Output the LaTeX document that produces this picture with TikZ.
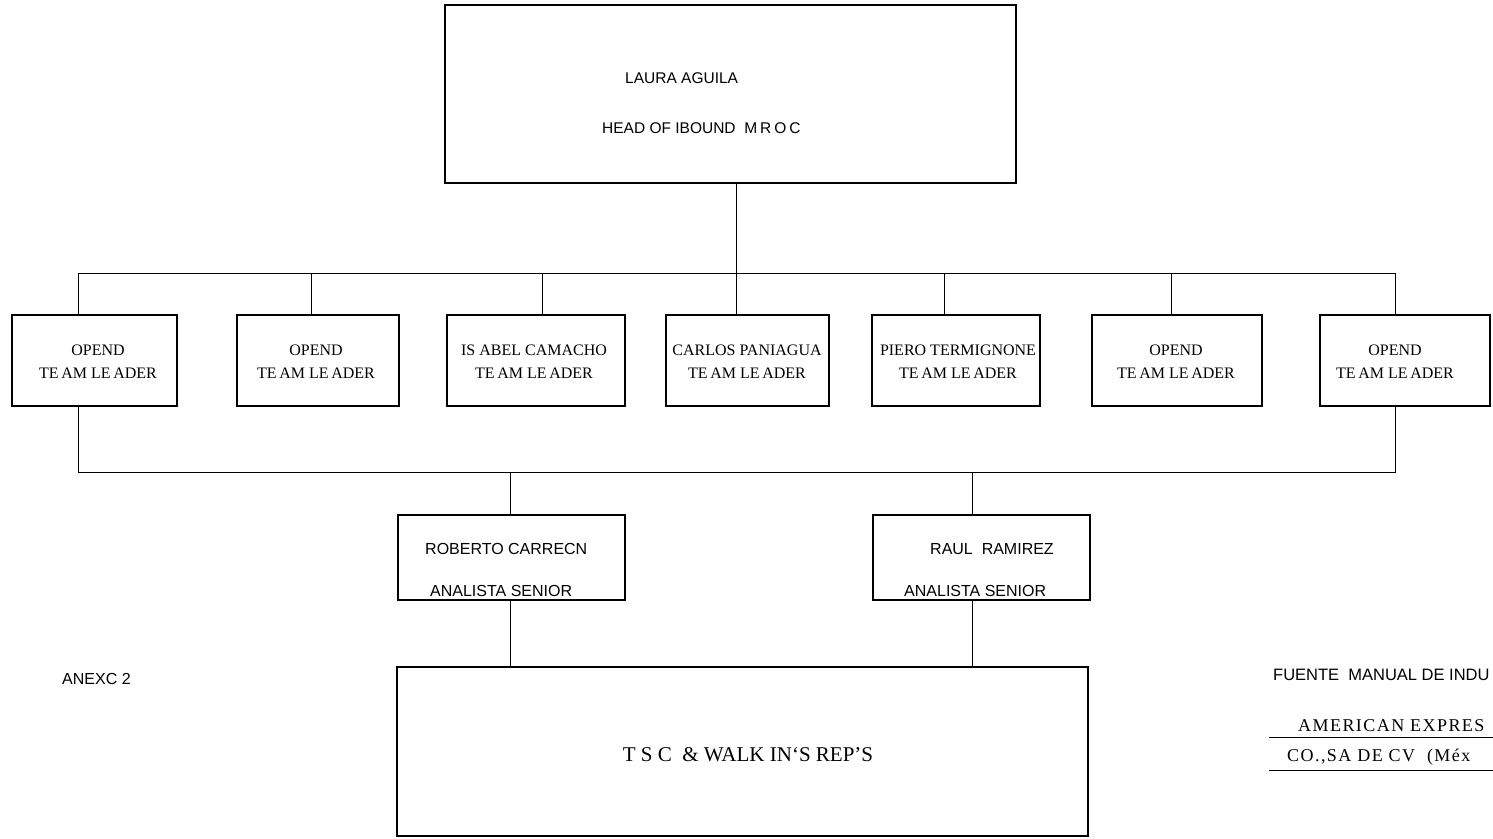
\documentclass[tikz,border=0pt]{standalone}
\usepackage{fontspec}
\setmainfont{Liberation Serif}
\newfontfamily\arialf{Liberation Sans}
\newfontfamily\widerm[LetterSpace=8]{Liberation Serif}
\begin{document}
\begin{tikzpicture}[x=1pt,y=-1pt,
  box/.style={draw=black,line width=1.3pt,rectangle,inner sep=0pt},
  conn/.style={draw=black,line width=1pt},
  sanslbl/.style={font=\arialf\fontsize{15.5}{17}\selectfont,inner sep=0pt,anchor=west},
  tllbl/.style={font=\fontsize{16}{18}\selectfont,inner sep=0pt,align=center},
  anlbl/.style={font=\arialf\fontsize{16}{18}\selectfont,inner sep=0pt,anchor=west},
  amexlbl/.style={font=\widerm\fontsize{18}{20}\selectfont,inner sep=0pt,anchor=west},
  hr/.style={draw=black,line width=1pt}]
\useasboundingbox (0,0) rectangle (1493,838);
\clip (0,0) rectangle (1493,838);
% head box
\node[box,minimum width=571pt,minimum height=178pt] (head) at (730.5,94) {};
\node[sanslbl] (hname) at (625,78) {LAURA AGUILA};
\node[sanslbl] (htitle) at (602,128) {HEAD OF IBOUND \ M\hspace{3pt}R\hspace{3pt}O\hspace{3pt}C};
% bus coordinates
\coordinate (b1) at (78,273);
\coordinate (b2) at (311,273);
\coordinate (b3) at (542,273);
\coordinate (b4) at (736,273);
\coordinate (b5) at (944,273);
\coordinate (b6) at (1171,273);
\coordinate (b7) at (1395,273);
% team leader boxes
\node[box,minimum width=165pt,minimum height=91pt] (t1) at (94.5,360.5) {};
\node[box,minimum width=162pt,minimum height=91pt] (t2) at (318,360.5) {};
\node[box,minimum width=178pt,minimum height=91pt] (t3) at (536,360.5) {};
\node[box,minimum width=163pt,minimum height=91pt] (t4) at (747.5,360.5) {};
\node[box,minimum width=168pt,minimum height=91pt] (t5) at (956,360.5) {};
\node[box,minimum width=170pt,minimum height=91pt] (t6) at (1177,360.5) {};
\node[box,minimum width=170pt,minimum height=91pt] (t7) at (1405,360.5) {};
\newcommand\tlead{TE\,AM LE\,ADER}
\node[tllbl] (t1a) at (98,350) {OPEND};
\node[tllbl] (t1b) at (98,373) {\tlead};
\node[tllbl] (t2a) at (316,350) {OPEND};
\node[tllbl] (t2b) at (316,373) {\tlead};
\node[tllbl] (t3a) at (534,350) {IS ABEL CAMACHO};
\node[tllbl] (t3b) at (534,373) {\tlead};
\node[tllbl] (t4a) at (747,350) {CARLOS PANIAGUA};
\node[tllbl] (t4b) at (747,373) {\tlead};
\node[tllbl] (t5a) at (958,350) {PIERO TERMIGNONE};
\node[tllbl] (t5b) at (958,373) {\tlead};
\node[tllbl] (t6a) at (1176,350) {OPEND};
\node[tllbl] (t6b) at (1176,373) {\tlead};
\node[tllbl] (t7a) at (1395,350) {OPEND};
\node[tllbl] (t7b) at (1395,373) {\tlead};
% upper bus
\draw[conn] (head.south -| b4) -- (b4);
\draw[conn] (b1) -- (b7);
\foreach \i in {1,...,7}{\draw[conn] (b\i) -- (b\i |- t\i.north);}
% lower bus
\coordinate (c1) at (78,472);
\coordinate (c7) at (1395,472);
\coordinate (ca) at (510,472);
\coordinate (cb) at (972,472);
\draw[conn] (t1.south -| c1) -- (c1) -- (c7) -- (t7.south -| c7);
% analyst boxes
\node[box,minimum width=227pt,minimum height=85pt] (ana) at (511.5,557.5) {};
\node[box,minimum width=217pt,minimum height=85pt] (anb) at (981.5,557.5) {};
\node[anlbl] (anaa) at (425,549) {ROBERTO CARRECN};
\node[anlbl] (anab) at (430,591) {ANALISTA SENIOR};
\node[anlbl] (anba) at (930,549) {RAUL \ RAMIREZ};
\node[anlbl] (anbb) at (904,591) {ANALISTA SENIOR};
\draw[conn] (ca) -- (ana.north -| ca);
\draw[conn] (cb) -- (anb.north -| cb);
% bottom box
\node[box,minimum width=691pt,minimum height=169pt] (tsc) at (742.5,751.5) {};
\node[font=\fontsize{21}{24}\selectfont,inner sep=0pt] (tsctxt) at (748,755) {T S C \ \& WALK IN`S REP'S};
\draw[conn] (ana.south -| ca) -- (tsc.north -| ca);
\draw[conn] (anb.south -| cb) -- (tsc.north -| cb);
% side texts
\node[sanslbl,font=\arialf\fontsize{16}{18}\selectfont] (anexo) at (62,679) {ANEXC 2};
\node[sanslbl,font=\arialf\fontsize{16.5}{18}\selectfont] (fuente) at (1273,675) {FUENTE \ MANUAL DE INDU};
\node[amexlbl] (amex1) at (1298,726) {AMERICAN EXPRES};
\node[amexlbl] (amex2) at (1287,757) {CO.,SA DE CV \ (Méx};
\coordinate (u1l) at (1269,737);
\coordinate (u1r) at (1493,737);
\coordinate (u2l) at (1269,770);
\coordinate (u2r) at (1493,770);
\draw[hr] (u1l) -- (u1r);
\draw[hr] (u2l) -- (u2r);
\end{tikzpicture}
\end{document}
